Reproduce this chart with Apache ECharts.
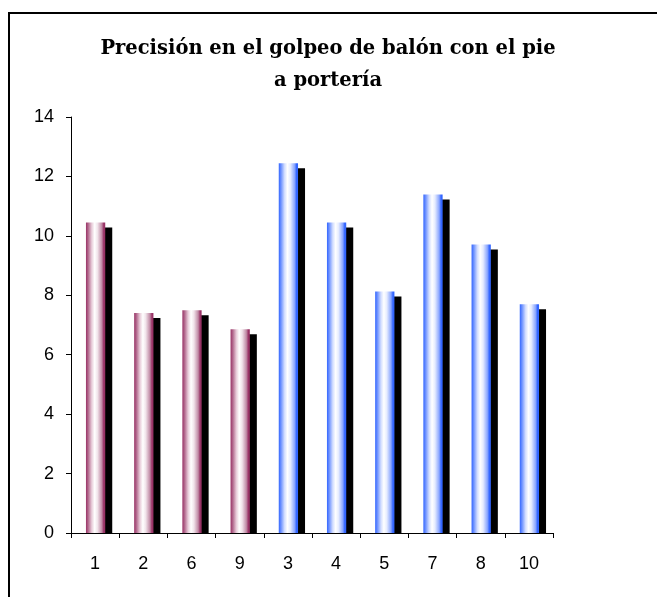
<!DOCTYPE html>
<html>
<head>
<meta charset="utf-8">
<title>Precisión en el golpeo de balón con el pie a portería</title>
<script src="https://cdn.jsdelivr.net/npm/echarts@6/dist/echarts.min.js"></script>
<style>
  html, body { margin: 0; padding: 0; background: #fff; }
  #chart { width: 657px; height: 597px; }
</style>
</head>
<body>
<div id="chart"></div>
<script>
// Players in display order and their shooting precision score
const categories = ['1', '2', '6', '9', '3', '4', '5', '7', '8', '10'];
const precision = [10.45, 7.4, 7.5, 6.86, 12.44, 10.45, 8.13, 11.39, 9.71, 7.7];
// Colour group of each player (0 = maroon group, 1 = blue group)
const colourGroup = [0, 0, 0, 0, 1, 1, 1, 1, 1, 1];
// Value axis range
const yMin = 0, yMax = 14, yStep = 2;

const palettes = [
  [
    { offset: 0, color: '#993366' },
    { offset: 0.12, color: '#b36a8e' },
    { offset: 0.3, color: '#e8ccd9' },
    { offset: 0.45, color: '#ffffff' },
    { offset: 0.6, color: '#f1e3ea' },
    { offset: 0.82, color: '#c08aa5' },
    { offset: 0.92, color: '#993366' },
    { offset: 1, color: '#993366' }
  ],
  [
    { offset: 0, color: '#3366ff' },
    { offset: 0.12, color: '#6f93ff' },
    { offset: 0.3, color: '#d2ddff' },
    { offset: 0.45, color: '#ffffff' },
    { offset: 0.6, color: '#e6ecff' },
    { offset: 0.82, color: '#8aa6ff' },
    { offset: 0.92, color: '#3366ff' },
    { offset: 1, color: '#3366ff' }
  ]
];

const chart = echarts.init(document.getElementById('chart'), null, { renderer: 'canvas' });

// Cylinder-like bar with a hard black drop shadow to the lower right
function renderBar(params, api) {
  const idx = api.value(0);
  const val = api.value(1);
  const top = api.coord([idx, val]);
  const base = api.coord([idx, 0]);
  const band = api.size([1, 0])[0];
  const w = band * 0.4;
  const x = top[0] - w / 2 + 0.5;
  const h = base[1] - top[1];
  const stops = palettes[colourGroup[idx]];
  return {
    type: 'group',
    children: [
      {
        type: 'rect',
        shape: { x: x + 7, y: top[1] + 5, width: w, height: Math.max(h - 5, 0) },
        style: { fill: '#000000' }
      },
      {
        type: 'rect',
        shape: { x: x, y: top[1], width: w, height: h },
        style: {
          fill: new echarts.graphic.LinearGradient(0, 0, 1, 0, stops)
        }
      }
    ]
  };
}

const option = {
  backgroundColor: '#ffffff',
  animation: false,
  title: {
    text: 'Precisión en el golpeo de balón con el pie\na portería',
    left: 323,
    top: 28,
    textAlign: 'center',
    textStyle: {
      fontFamily: 'DejaVu Serif',
      fontWeight: 'bold',
      fontSize: 19.5,
      lineHeight: 32,
      color: '#000000'
    }
  },
  graphic: [
    {
      type: 'rect',
      shape: { x: 9, y: 13, width: 700, height: 700 },
      style: { fill: 'none', stroke: '#000000', lineWidth: 2 },
      silent: true
    }
  ],
  grid: { left: 71, right: 104, top: 117, bottom: 64, containLabel: false },
  xAxis: {
    type: 'category',
    data: categories,
    boundaryGap: true,
    axisLine: { show: true, lineStyle: { color: '#000000', width: 1 } },
    axisTick: { show: true, inside: false, length: 5, alignWithLabel: false, lineStyle: { color: '#000000' } },
    axisLabel: {
      margin: 22,
      fontFamily: 'Liberation Sans',
      fontSize: 18,
      color: '#000000'
    },
    splitLine: { show: false }
  },
  yAxis: {
    type: 'value',
    min: yMin,
    max: yMax,
    interval: yStep,
    axisLine: { show: true, lineStyle: { color: '#000000', width: 1 } },
    axisTick: { show: true, inside: false, length: 5, lineStyle: { color: '#000000' } },
    axisLabel: {
      margin: 17,
      fontFamily: 'Liberation Sans',
      fontSize: 18,
      color: '#000000'
    },
    splitLine: { show: false }
  },
  series: [
    {
      type: 'custom',
      renderItem: renderBar,
      encode: { x: 0, y: 1 },
      data: precision.map((v, i) => [i, v]),
      z: 1
    }
  ]
};

chart.setOption(option);
</script>
</body>
</html>
